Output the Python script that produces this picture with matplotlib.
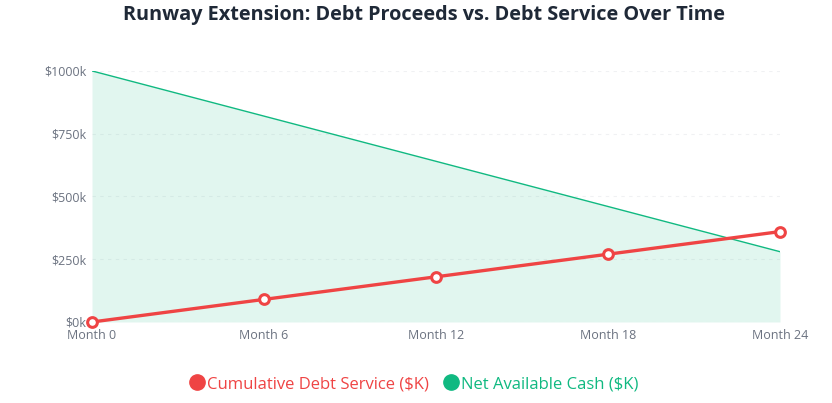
import matplotlib
matplotlib.use('Agg')
import matplotlib.pyplot as plt
from matplotlib.lines import Line2D

plt.rcParams['font.family'] = ['Open Sans', 'DejaVu Sans']

months = [0, 6, 12, 18, 24]
month_labels = ['Month 0', 'Month 6', 'Month 12', 'Month 18', 'Month 24']
debt_service = [0, 90, 180, 270, 360]
net_cash = [1000, 820, 640, 460, 280]
y_ticks = [0, 250, 500, 750, 1000]

red = '#ef4444'
green = '#10b981'

fig = plt.figure(figsize=(8.32, 4.03), dpi=100)
ax = fig.add_axes([0.1106, 0.201, 0.8269, 0.623])

ax.fill_between(months, net_cash, 0, color=green, alpha=0.12, linewidth=0)
ax.plot(months, net_cash, color=green, linewidth=1.0, zorder=3)
ax.plot(months, debt_service, color=red, linewidth=2.4, marker='o', ms=7,
        mfc='white', mec=red, mew=2.2, zorder=4, clip_on=False)

ax.set_xlim(0, 24)
ax.set_ylim(0, 1000)
ax.set_xticks(months)
ax.set_xticklabels(month_labels)
ax.set_yticks(y_ticks)
ax.set_yticklabels([f'${v}k' for v in y_ticks])
ax.tick_params(colors='#6b7280', labelsize=9, length=0, pad=4)
ax.tick_params(axis='x', pad=5)
for s in ax.spines.values():
    s.set_visible(False)
ax.grid(axis='y', color='#f0f1f3', linestyle=(0, (3, 4)), linewidth=0.8)
ax.set_axisbelow(True)

fig.text(0.51, 0.962, 'Runway Extension: Debt Proceeds vs. Debt Service Over Time',
         ha='center', va='center', fontsize=14.3, fontweight='bold', color='#1f2937')

handles = [Line2D([], [], marker='o', ls='', color=red, ms=11),
           Line2D([], [], marker='o', ls='', color=green, ms=11)]
leg = fig.legend(handles, ['Cumulative Debt Service ($K)', 'Net Available Cash ($K)'],
                 loc='center', bbox_to_anchor=(0.497, 0.047), ncol=2, frameon=False,
                 fontsize=12, handletextpad=0.1, columnspacing=0.8, handlelength=1.0)
for t, c in zip(leg.get_texts(), [red, green]):
    t.set_color(c)

fig.savefig('out.png', dpi=100)
